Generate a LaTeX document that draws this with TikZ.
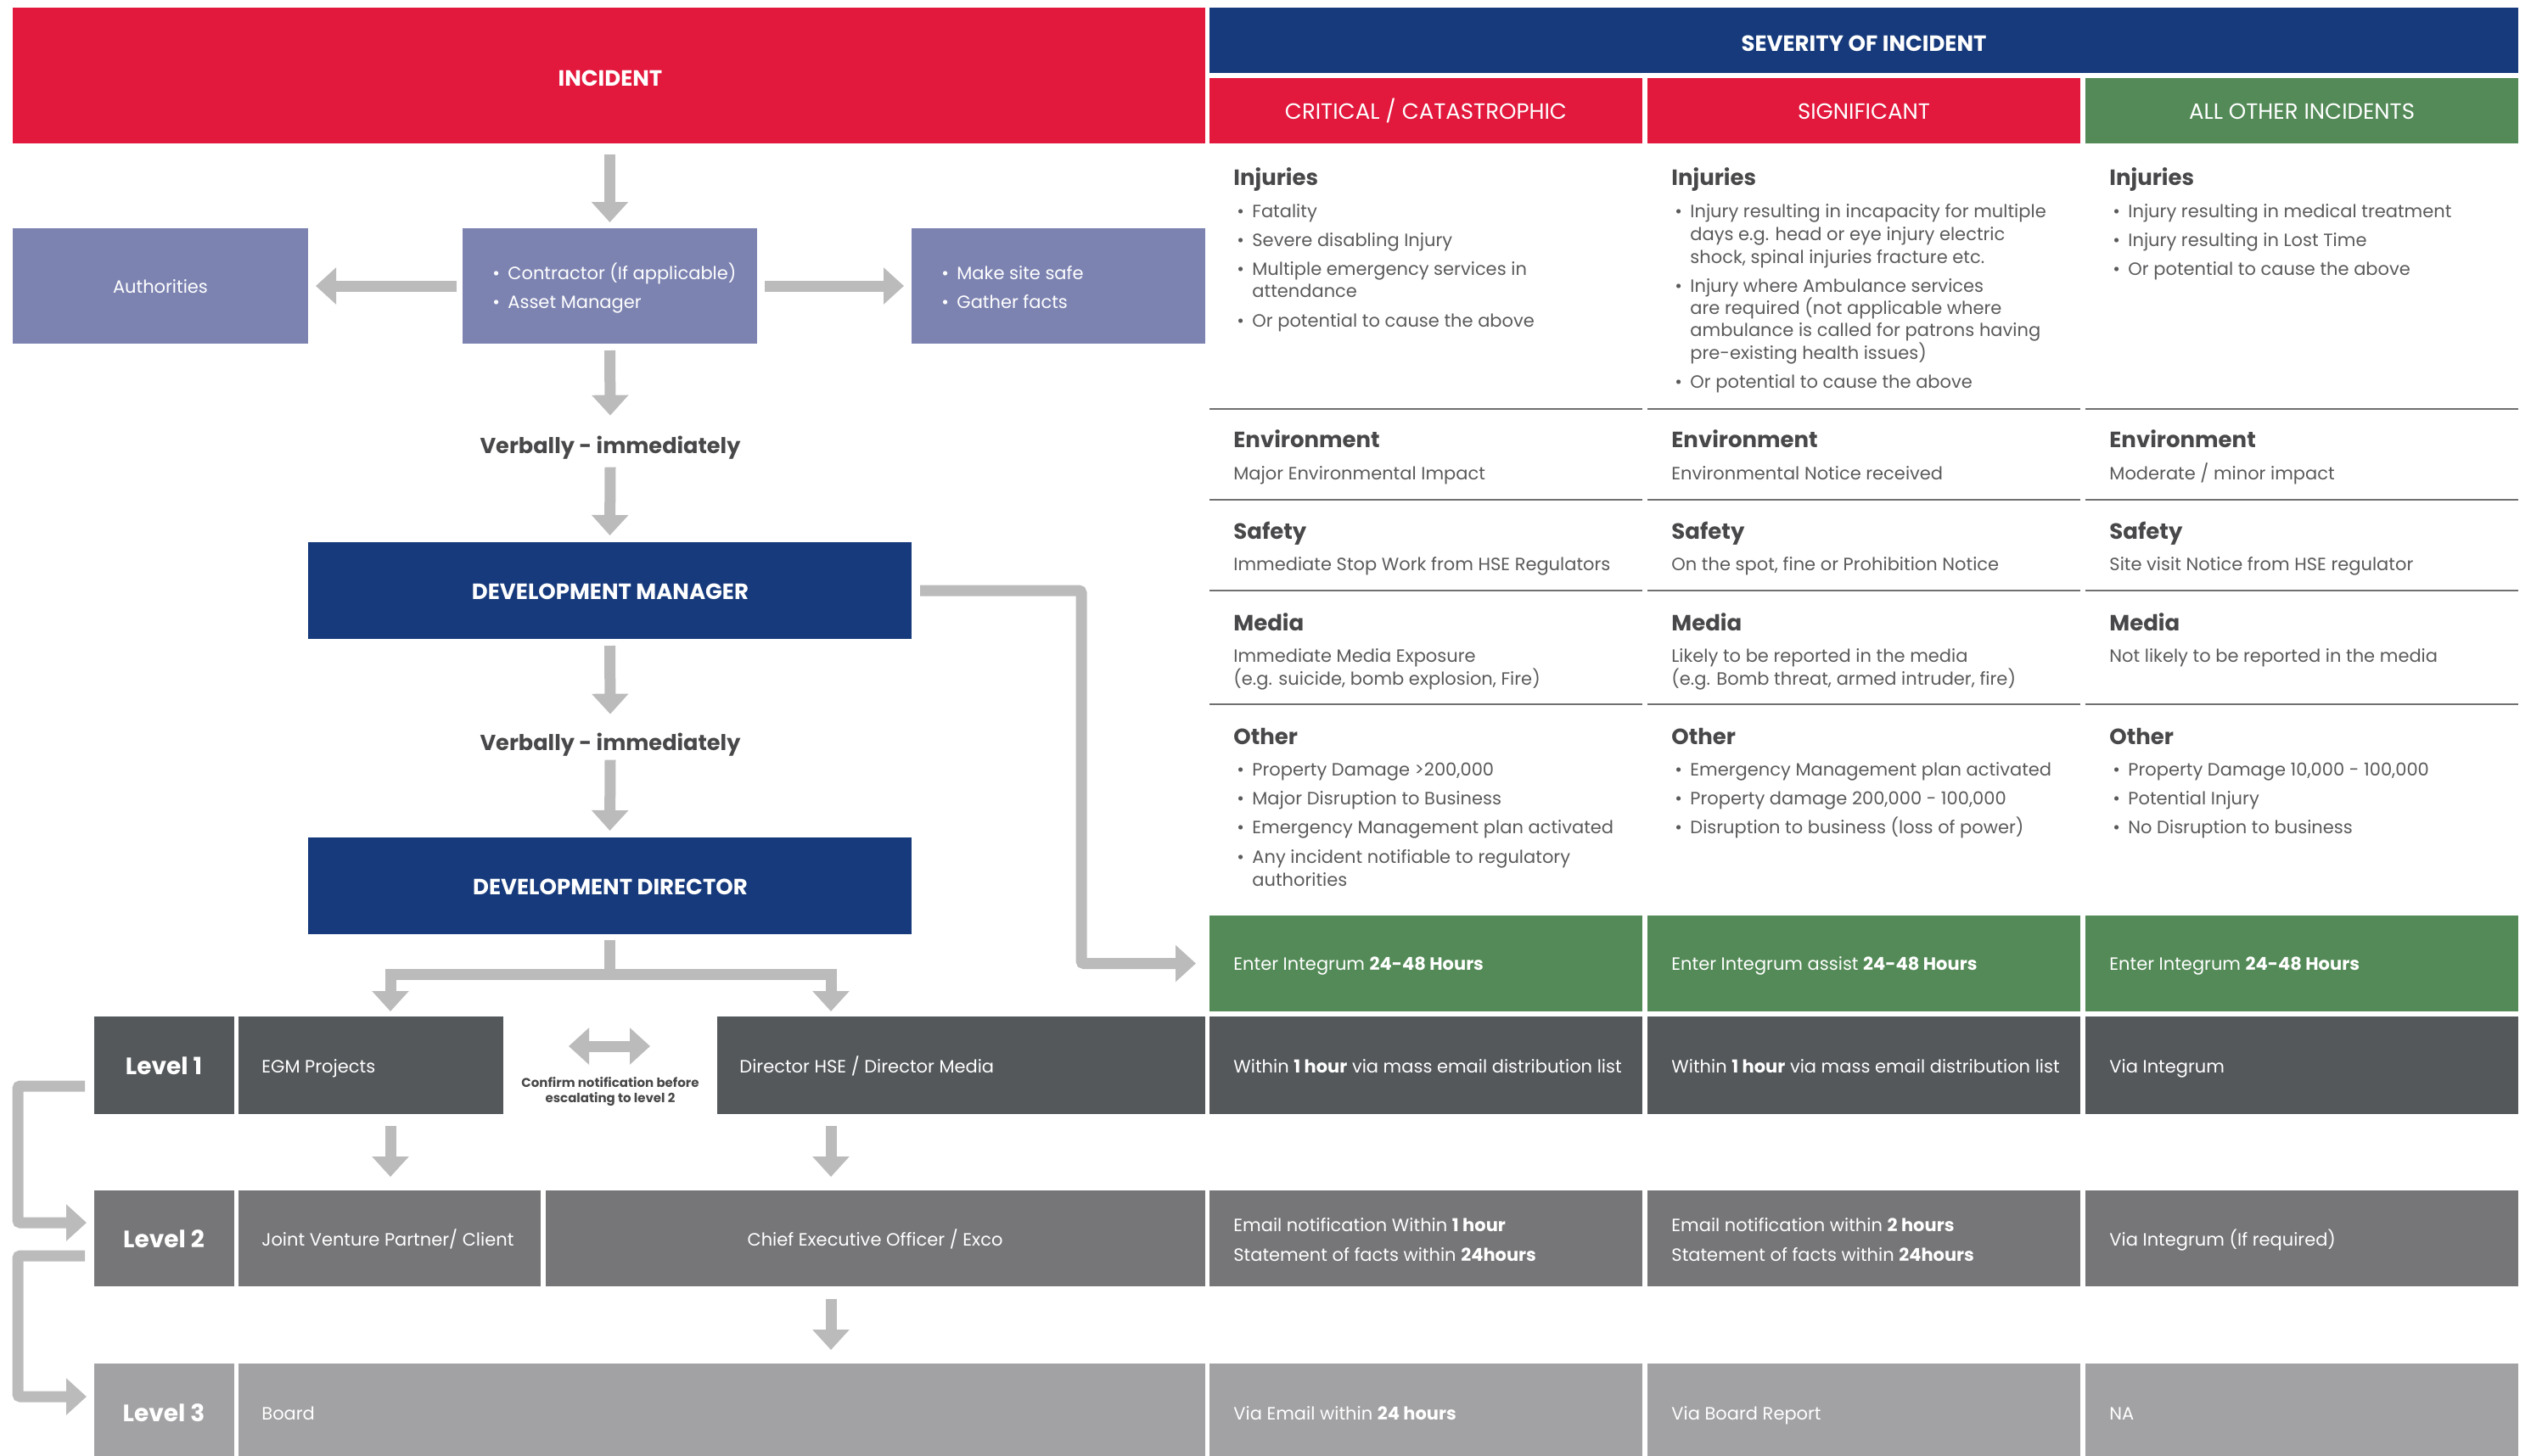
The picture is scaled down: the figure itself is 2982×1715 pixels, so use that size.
\documentclass[tikz,border=0pt]{standalone}
\usepackage{fontspec}
\setmainfont{Poppins}
\usetikzlibrary{arrows.meta,fit,calc}
\definecolor{cRed}{HTML}{E2183D}
\definecolor{cNavy}{HTML}{163A7C}
\definecolor{cGreen}{HTML}{538A57}
\definecolor{cPeri}{HTML}{7C83B1}
\definecolor{cLa}{HTML}{54585B}
\definecolor{cLb}{HTML}{767679}
\definecolor{cLc}{HTML}{A2A1A4}
\definecolor{cArrow}{HTML}{BBBBBB}
\definecolor{cHead}{HTML}{48484A}
\definecolor{cBody}{HTML}{5A5A5C}
\definecolor{cRule}{HTML}{707070}
\tikzset{
  cellbox/.style={inner sep=0pt, outer sep=0pt, draw=none},
  arr/.style={draw=cArrow, line width=6.5pt, -{Triangle[width=21pt,length=12pt]}},
  dbl/.style={draw=cArrow, line width=6.5pt, {Triangle[width=21pt,length=12pt]}-{Triangle[width=21pt,length=12pt]}},
  body/.style={text=cBody, inner sep=0pt, yshift=-1pt, font=\fontsize{10.5}{13}\selectfont},
  heading/.style={text=cHead, inner sep=0pt, yshift=-2.5pt, font=\bfseries\fontsize{13}{15}\selectfont},
  wbody/.style={text=white, inner sep=0pt, yshift=-1pt, font=\fontsize{10.5}{13}\selectfont},
  wtitle/.style={text=white, inner sep=0pt, yshift=-2pt, font=\bfseries\fontsize{13}{15}\selectfont},
  wsub/.style={text=white, inner sep=0pt, yshift=-2pt, font=\fontsize{13}{15}\selectfont},
  lvl/.style={text=white, inner sep=0pt, yshift=-2pt, font=\bfseries\fontsize{14}{16}\selectfont},
  verb/.style={text=cHead, inner sep=0pt, font=\bfseries\fontsize{12.8}{15}\selectfont},
  confirm/.style={text=cHead, inner sep=0pt, font=\bfseries\fontsize{7.5}{9}\selectfont},
  sep/.style={draw=cRule, line width=1.2pt}
}
\newcommand\rbox[6]{\node[cellbox, fill=#6, fit={(#2,#3) (#4,#5)}] (#1) {};}
% bullet line: name, x (column text start), y, text, style
\newcommand\bul[5]{\node[#5, anchor=mid west] (#1b) at (#2+4,#3) {\textbullet}; \node[#5, anchor=mid west] (#1) at (#2+22,#3) {#4};}
\newcommand\tline[5]{\node[#5, anchor=mid west] (#1) at (#2,#3) {#4};}
\begin{document}
\begin{tikzpicture}[x=0.5pt,y=-0.5pt]
\useasboundingbox (0,0) rectangle (2982,1715);
% ---------- header boxes ----------
\rbox{inc}{15}{9}{1420}{169}{cRed}
\rbox{sev}{1425}{9}{2967}{86}{cNavy}
\rbox{crit}{1425}{92}{1935}{169}{cRed}
\rbox{sig}{1941}{92}{2451}{169}{cRed}
\rbox{oth}{2457}{92}{2967}{169}{cGreen}
\node[wtitle, anchor=mid] (incT) at (719,92) {INCIDENT};
\node[wtitle, anchor=mid] (sevT) at (2196,51) {SEVERITY OF INCIDENT};
\node[wsub, anchor=mid] (critT) at (1680,131) {CRITICAL / CATASTROPHIC};
\node[wsub, anchor=mid] (sigT) at (2196,131) {SIGNIFICANT};
\node[wsub, anchor=mid] (othT) at (2712,131) {ALL OTHER INCIDENTS};
% ---------- first flow ----------
\rbox{auth}{15}{269}{363}{405}{cPeri}
\rbox{con}{545}{269}{892}{405}{cPeri}
\rbox{safe}{1074}{269}{1420}{405}{cPeri}
\node[wbody, anchor=mid] (authT) at (189,338) {Authorities};
\bul{conA}{576}{322}{Contractor (If applicable)}{wbody}
\bul{conB}{576}{356}{Asset Manager}{wbody}
\bul{safeA}{1105}{322}{Make site safe}{wbody}
\bul{safeB}{1105}{356}{Gather facts}{wbody}
\node[verb, anchor=mid] (v1) at (719,529) {Verbally - immediately};
\rbox{dm}{363}{639}{1074}{753}{cNavy}
\node[wtitle, anchor=mid] (dmT) at (719,697) {DEVELOPMENT MANAGER};
\node[verb, anchor=mid] (v2) at (719,879) {Verbally - immediately};
\rbox{dd}{363}{987}{1074}{1101}{cNavy}
\node[wtitle, anchor=mid] (ddT) at (719,1045) {DEVELOPMENT DIRECTOR};
% ---------- levels (left) ----------
\rbox{lA}{111}{1198}{276}{1313}{cLa}
\rbox{egm}{281}{1198}{593}{1313}{cLa}
\rbox{dhse}{845}{1198}{1420}{1313}{cLa}
\rbox{lB}{111}{1403}{276}{1516}{cLb}
\rbox{jv}{281}{1403}{637}{1516}{cLb}
\rbox{ceo}{643}{1403}{1420}{1516}{cLb}
\rbox{lC}{111}{1607}{276}{1725}{cLc}
\rbox{board}{281}{1607}{1420}{1725}{cLc}
\node[lvl, anchor=mid] (lAT) at (193,1257) {Level 1};
\node[lvl, anchor=mid] (lBT) at (193,1461) {Level 2};
\node[lvl, anchor=mid] (lCT) at (193,1666) {Level 3};
\tline{egmT}{308}{1257}{EGM Projects}{wbody}
\tline{dhseT}{871}{1257}{Director HSE / Director Media}{wbody}
\tline{jvT}{308}{1461}{Joint Venture Partner/ Client}{wbody}
\node[wbody, anchor=mid] (ceoT) at (1031,1461) {Chief Executive Officer / Exco};
\tline{boardT}{308}{1666}{Board}{wbody}
\node[confirm, anchor=mid] (cfA) at (719,1276) {Confirm notification before};
\node[confirm, anchor=mid] (cfB) at (719,1294) {escalating to level 2};
% ---------- table: green and level cells ----------
\rbox{ga}{1425}{1079}{1935}{1192}{cGreen}
\rbox{gb}{1941}{1079}{2451}{1192}{cGreen}
\rbox{gc}{2457}{1079}{2967}{1192}{cGreen}
\rbox{aA}{1425}{1198}{1935}{1313}{cLa}
\rbox{aB}{1941}{1198}{2451}{1313}{cLa}
\rbox{aC}{2457}{1198}{2967}{1313}{cLa}
\rbox{bA}{1425}{1403}{1935}{1516}{cLb}
\rbox{bB}{1941}{1403}{2451}{1516}{cLb}
\rbox{bC}{2457}{1403}{2967}{1516}{cLb}
\rbox{cA}{1425}{1607}{1935}{1725}{cLc}
\rbox{cB}{1941}{1607}{2451}{1725}{cLc}
\rbox{cC}{2457}{1607}{2967}{1725}{cLc}
\tline{gaT}{1453}{1136}{Enter Integrum \textbf{24-48 Hours}}{wbody}
\tline{gbT}{1969}{1136}{Enter Integrum assist \textbf{24-48 Hours}}{wbody}
\tline{gcT}{2485}{1136}{Enter Integrum \textbf{24-48 Hours}}{wbody}
\tline{aAT}{1453}{1257}{Within \textbf{1 hour} via mass email distribution list}{wbody}
\tline{aBT}{1969}{1257}{Within \textbf{1 hour} via mass email distribution list}{wbody}
\tline{aCT}{2485}{1257}{Via Integrum}{wbody}
\tline{bAT}{1453}{1444}{Email notification Within \textbf{1 hour}}{wbody}
\tline{bAU}{1453}{1479}{Statement of facts within \textbf{24hours}}{wbody}
\tline{bBT}{1969}{1444}{Email notification within \textbf{2 hours}}{wbody}
\tline{bBU}{1969}{1479}{Statement of facts within \textbf{24hours}}{wbody}
\tline{bCT}{2485}{1461}{Via Integrum (If required)}{wbody}
\tline{cAT}{1453}{1666}{Via Email within \textbf{24 hours}}{wbody}
\tline{cBT}{1969}{1666}{Via Board Report}{wbody}
\tline{cCT}{2485}{1666}{NA}{wbody}
% ---------- table: criteria ----------
\foreach \xa/\xb in {1425/1935,1941/2451,2457/2967}{
  \foreach \yy in {482,589,696,830}{\draw[sep] (\xa,\yy) -- (\xb,\yy);}
}
% column 1
\tline{h1a}{1453}{208}{Injuries}{heading}
\bul{i1a}{1453}{249}{Fatality}{body}
\bul{i1b}{1453}{283}{Severe disabling Injury}{body}
\bul{i1c}{1453}{317}{Multiple emergency services in}{body}
\tline{i1cc}{1475}{343}{attendance}{body}
\bul{i1d}{1453}{378}{Or potential to cause the above}{body}
\tline{h1b}{1453}{517}{Environment}{heading}
\tline{e1}{1453}{558}{Major Environmental Impact}{body}
\tline{h1c}{1453}{625}{Safety}{heading}
\tline{s1}{1453}{665}{Immediate Stop Work from HSE Regulators}{body}
\tline{h1d}{1453}{733}{Media}{heading}
\tline{m1}{1453}{773}{Immediate Media Exposure}{body}
\tline{m1b}{1453}{800}{(e.g. suicide, bomb explosion, Fire)}{body}
\tline{h1e}{1453}{867}{Other}{heading}
\bul{o1a}{1453}{907}{Property Damage >200,000}{body}
\bul{o1b}{1453}{941}{Major Disruption to Business}{body}
\bul{o1c}{1453}{975}{Emergency Management plan activated}{body}
\bul{o1d}{1453}{1010}{Any incident notifiable to regulatory}{body}
\tline{o1dd}{1475}{1037}{authorities}{body}
% column 2
\tline{h2a}{1969}{208}{Injuries}{heading}
\bul{i2a}{1969}{249}{Injury resulting in incapacity for multiple}{body}
\tline{i2a2}{1991}{276}{days e.g. head or eye injury electric}{body}
\tline{i2a3}{1991}{303}{shock, spinal injuries fracture etc.}{body}
\bul{i2b}{1969}{337}{Injury where Ambulance services}{body}
\tline{i2b2}{1991}{363}{are required (not applicable where}{body}
\tline{i2b3}{1991}{389}{ambulance is called for patrons having}{body}
\tline{i2b4}{1991}{416}{pre-existing health issues)}{body}
\bul{i2c}{1969}{450}{Or potential to cause the above}{body}
\tline{h2b}{1969}{517}{Environment}{heading}
\tline{e2}{1969}{558}{Environmental Notice received}{body}
\tline{h2c}{1969}{625}{Safety}{heading}
\tline{s2}{1969}{665}{On the spot, fine or Prohibition Notice}{body}
\tline{h2d}{1969}{733}{Media}{heading}
\tline{m2}{1969}{773}{Likely to be reported in the media}{body}
\tline{m2b}{1969}{800}{(e.g. Bomb threat, armed intruder, fire)}{body}
\tline{h2e}{1969}{867}{Other}{heading}
\bul{o2a}{1969}{907}{Emergency Management plan activated}{body}
\bul{o2b}{1969}{941}{Property damage 200,000 - 100,000}{body}
\bul{o2c}{1969}{975}{Disruption to business (loss of power)}{body}
% column 3
\tline{h3a}{2485}{208}{Injuries}{heading}
\bul{i3a}{2485}{249}{Injury resulting in medical treatment}{body}
\bul{i3b}{2485}{283}{Injury resulting in Lost Time}{body}
\bul{i3c}{2485}{317}{Or potential to cause the above}{body}
\tline{h3b}{2485}{517}{Environment}{heading}
\tline{e3}{2485}{558}{Moderate / minor impact}{body}
\tline{h3c}{2485}{625}{Safety}{heading}
\tline{s3}{2485}{665}{Site visit Notice from HSE regulator}{body}
\tline{h3d}{2485}{733}{Media}{heading}
\tline{m3}{2485}{773}{Not likely to be reported in the media}{body}
\tline{h3e}{2485}{867}{Other}{heading}
\bul{o3a}{2485}{907}{Property Damage 10,000 - 100,000}{body}
\bul{o3b}{2485}{941}{Potential Injury}{body}
\bul{o3c}{2485}{975}{No Disruption to business}{body}
% ---------- connectors ----------
\coordinate (colL) at (460,0);
\coordinate (colR) at (979,0);
\coordinate (rail) at (21,0);
\draw[arr] ([yshift=-6.5pt]con.north |- inc.south) -- ([yshift=3.5pt]con.north);
\draw[arr] ([xshift=-3.5pt]con.west) -- ([xshift=4.5pt]auth.east);
\draw[arr] ([xshift=4.5pt]con.east) -- ([xshift=-4.5pt]safe.west);
\draw[arr] ([yshift=-4pt]con.south) -- ([yshift=19pt]v1.center);
\draw[arr] ([yshift=-11.5pt]v1.center) -- ([yshift=4pt]dm.north);
\draw[arr] ([yshift=-4pt]dm.south) -- ([yshift=18pt]v2.center);
\draw[arr] ([yshift=-9pt]v2.center) -- ([yshift=4pt]dd.north);
\draw[arr, rounded corners=1.5pt] ([xshift=5pt]dm.east) -- ++(190,0) |- ([xshift=-8pt]ga.west);
\draw[arr] ([yshift=-3.5pt]dd.south) -- ++(0,40) -| ([yshift=3pt]egm.north -| colL);
\draw[arr] ([yshift=-3.5pt]dd.south) -- ++(0,40) -| ([yshift=3pt]dhse.north -| colR);
\draw[dbl] ([xshift=38.5pt,yshift=11.25pt]egm.east) -- ([xshift=-39.5pt,yshift=11.25pt]dhse.west);
\draw[arr] ([yshift=-7pt]egm.south -| colL) -- ([yshift=8pt]jv.north -| colL);
\draw[arr] ([yshift=-7pt]dhse.south -| colR) -- ([yshift=8pt]ceo.north -| colR);
\draw[arr] ([yshift=-7.5pt]ceo.south -| colR) -- ([yshift=8pt]board.north -| colR);
\draw[arr, rounded corners=1.5pt] ([xshift=-5.5pt,yshift=-12.25pt]lA.west) -| (rail |- lB.north) |- ([xshift=-4.5pt,yshift=9.25pt]lB.west);
\draw[arr, rounded corners=1.5pt] ([xshift=-5.5pt,yshift=-10.25pt]lB.west) -| (rail |- lC.north) |- ([xshift=-4.5pt,yshift=10pt]lC.west);
\end{tikzpicture}
\end{document}
